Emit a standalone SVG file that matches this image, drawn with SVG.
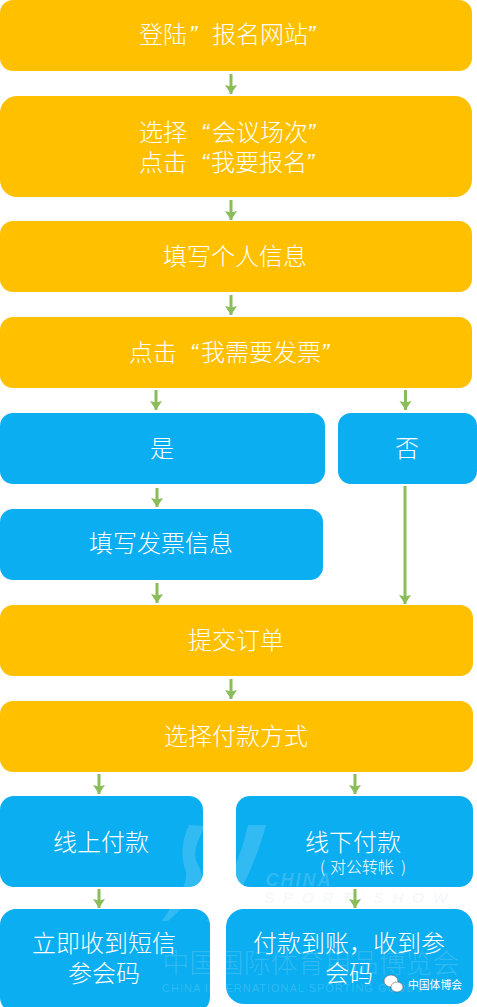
<svg xmlns="http://www.w3.org/2000/svg" width="477" height="1007" viewBox="0 0 477 1007">
<style>
.o{fill:#FFC000}.b{fill:#0BAEF0}
text{font-family:"Noto Sans CJK SC","Noto Sans",sans-serif;text-anchor:middle}
.t{fill:#fff;font-size:24px;font-weight:300}
.l{text-anchor:start}
.q{font-family:"Liberation Sans",sans-serif;font-style:italic}
.s{fill:#fff;font-size:16px;font-weight:300}
.c{stroke:#8ABD5A;stroke-width:3;fill:none;marker-end:url(#a)}
.wm{fill:#fff;fill-opacity:.16}
</style>
<defs><marker id="a" markerUnits="userSpaceOnUse" markerWidth="12" markerHeight="14" refX="9" refY="7" orient="auto"><path d="M0 1L9 7L0 13L1.500 7Z" fill="#8ABD5A"/></marker></defs>
<rect width="477" height="1007" fill="#fff"/>
<g id="connectors">
<path class="c" d="M231 74V94"/><path class="c" d="M231 200V220"/><path class="c" d="M231 295V315"/>
<path class="c" d="M156 390V410"/><path class="c" d="M405.500 390V410"/>
<path class="c" d="M157 488V507"/><path class="c" d="M157 583V603"/><path class="c" d="M405 486V604"/>
<path class="c" d="M231 679V699"/><path class="c" d="M99 774V794"/><path class="c" d="M355 774V794"/>
<path class="c" d="M99 889V908"/><path class="c" d="M355 889V908"/>
</g>
<g id="n1"><rect class="o" x="0" y="0" width="472" height="71" rx="13"/><text class="t l" x="139" y="43">登陆<tspan class="q" x="189">”</tspan><tspan x="212">报名网站</tspan><tspan class="q" x="307">”</tspan></text></g>
<g id="n2"><rect class="o" x="0" y="96" width="472" height="101" rx="17"/><text class="t l" x="139" y="141">选择<tspan class="q" x="201">“</tspan><tspan x="212">会议场次</tspan><tspan class="q" x="307">”</tspan></text><text class="t l" x="139" y="171">点击<tspan class="q" x="201">“</tspan><tspan x="211">我要报名</tspan><tspan class="q" x="306">”</tspan></text></g>
<g id="n3"><rect class="o" x="0" y="221" width="472" height="71" rx="13"/><text class="t" x="235" y="265">填写个人信息</text></g>
<g id="n4"><rect class="o" x="0" y="317" width="472" height="71" rx="13"/><text class="t l" x="129" y="361">点击<tspan class="q" x="190">“</tspan><tspan x="201">我需要发票</tspan><tspan class="q" x="321">”</tspan></text></g>
<g id="n5"><rect class="b" x="0" y="413" width="325" height="71" rx="13"/><text class="t" x="162" y="457">是</text></g>
<g id="n6"><rect class="b" x="338" y="413" width="139" height="71" rx="13"/><text class="t" x="407" y="457">否</text></g>
<g id="n7"><rect class="b" x="0" y="509" width="323" height="71" rx="13"/><text class="t" x="161" y="552">填写发票信息</text></g>
<g id="n8"><rect class="o" x="0" y="605" width="473" height="71" rx="13"/><text class="t" x="236" y="649">提交订单</text></g>
<g id="n9"><rect class="o" x="0" y="701" width="473" height="71" rx="13"/><text class="t" x="236" y="745">选择付款方式</text></g>
<g id="n10"><rect class="b" x="0" y="796" width="203" height="91" rx="14"/><text class="t" x="101" y="851">线上付款</text></g>
<g id="n11"><rect class="b" x="236" y="796" width="237" height="91" rx="14"/><text class="t" x="353" y="851">线下付款</text><text class="s l" x="320" y="873">(<tspan x="330">对公转帐</tspan><tspan x="401">)</tspan></text></g>
<g id="n12"><rect class="b" x="0" y="909" width="210" height="104" rx="16"/><text class="t" x="104" y="952">立即收到短信</text><text class="t" x="104" y="982">参会码</text></g>
<g id="n13"><rect class="b" x="226" y="909" width="247" height="95" rx="18"/><text class="t" x="349" y="952">付款到账，收到参</text><text class="t" x="349" y="982">会码</text></g>
<g id="watermark">
<path class="wm" d="M189 825L205 826C198 840 192 852 197 863C203 873 204 882 195 896L168 921L162 921C176 900 188 885 186 872C180 856 182 840 189 825Z"/>
<path class="wm" d="M248 825L266 825C258 855 245 885 224 921L207 921C226 890 240 860 248 825Z"/>
<text class="wm" x="299" y="886" font-size="18" font-weight="700" font-style="italic" style="font-family:'Liberation Sans',sans-serif;letter-spacing:2px">CHINA</text>
<text x="360" y="903" font-size="15" font-style="italic" fill="#F4F7F8" style="font-family:'Liberation Sans',sans-serif;letter-spacing:9px">SPORT SHOW</text>
<text class="wm" x="311" y="973" font-size="27" font-weight="300">中国国际体育用品博览会</text>
<text class="wm" x="293" y="992" font-size="11" style="font-family:'Liberation Sans',sans-serif;letter-spacing:1px">CHINA INTERNATIONAL SPORTING GOODS</text>
</g>
<g id="wechat-mark">
<ellipse cx="391" cy="981" rx="7" ry="6" fill="#fff" stroke="#666" stroke-width=".6"/>
<ellipse cx="397" cy="987" rx="6" ry="5" fill="#fff" stroke="#666" stroke-width=".6"/>
<text x="435" y="989" font-size="10.800" fill="#fff">中国体博会</text>
</g>
</svg>
